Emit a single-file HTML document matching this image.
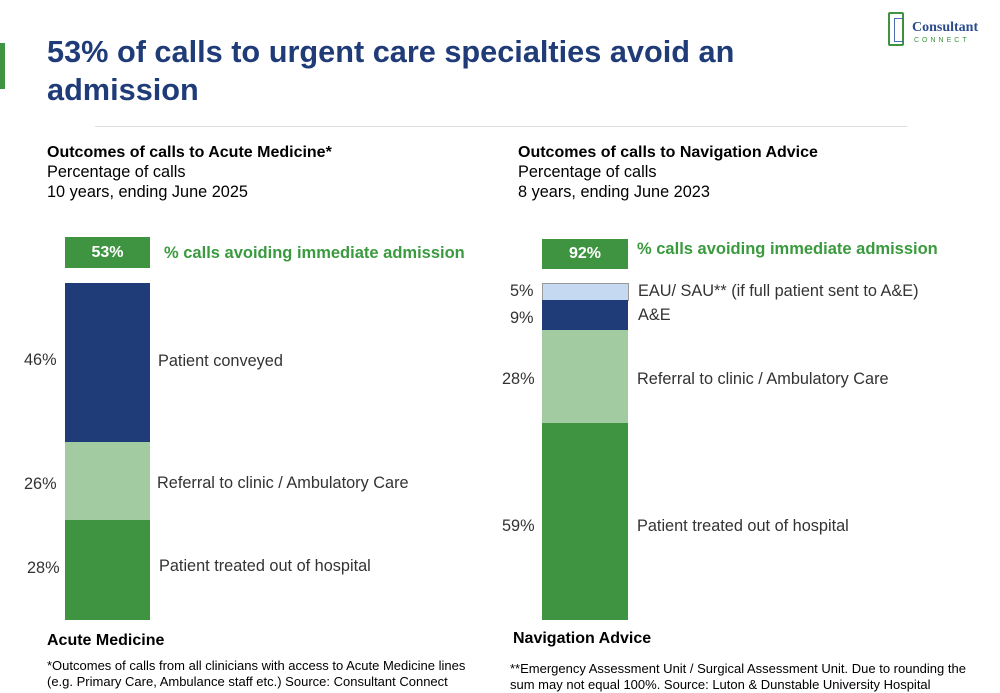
<!DOCTYPE html><html><head><style>
body{margin:0;width:1000px;height:692px;background:#fff;position:relative;font-family:"Liberation Sans",sans-serif;overflow:hidden}
div{position:absolute}
.t{color:#333;font-size:16.3px;white-space:nowrap}
.g{color:#3a9a3e;font-weight:bold;font-size:16.5px;white-space:nowrap}
.b{font-weight:bold;color:#000;font-size:16px;white-space:nowrap}
.s{font-size:13px;color:#000;line-height:16px;white-space:nowrap}
.box{background:#3e9441;color:#fff;font-weight:bold;font-size:16px;text-align:center}
</style></head><body>
<div style="left:0;top:43px;width:5px;height:46px;background:#3e9441"></div>
<div style="left:47px;top:33px;font-size:30.7px;font-weight:bold;color:#1f3c78;line-height:38px;width:900px">53% of calls to urgent care specialties avoid an<br>admission</div>
<div style="left:888px;top:12px;width:12px;height:30px;border:2px solid #3e9441;border-radius:2px"></div>
<div style="left:894px;top:18px;width:8px;height:22px;border:1.5px solid #4a6db0"></div>
<div style="left:912px;top:20px;font-family:'Liberation Serif',serif;font-size:14px;font-weight:bold;color:#2a4b8d">Consultant</div>
<div style="left:914px;top:37px;font-size:7px;letter-spacing:3px;color:#3e9441">CONNECT</div>
<div style="left:95px;top:126px;width:812px;height:1px;background:#ddd"></div>

<div class="b" style="left:47px;top:144px">Outcomes of calls to Acute Medicine*</div>
<div class="t" style="left:47px;top:163px;color:#000">Percentage of calls</div>
<div class="t" style="left:47px;top:183px;color:#000">10 years, ending June 2025</div>
<div class="b" style="left:518px;top:144px">Outcomes of calls to Navigation Advice</div>
<div class="t" style="left:518px;top:163px;color:#000">Percentage of calls</div>
<div class="t" style="left:518px;top:183px;color:#000">8 years, ending June 2023</div>

<div class="box" style="left:65px;top:237px;width:85px;height:31px;line-height:31px">53%</div>
<div class="g" style="left:164px;top:244px">% calls avoiding immediate admission</div>
<div style="left:65px;top:283px;width:85px;height:159px;background:#1f3c78"></div>
<div style="left:65px;top:442px;width:85px;height:78px;background:#a3cba1"></div>
<div style="left:65px;top:520px;width:85px;height:100px;background:#3e9441"></div>
<div class="t" style="left:24px;top:351px">46%</div>
<div class="t" style="left:158px;top:352px">Patient conveyed</div>
<div class="t" style="left:24px;top:475px">26%</div>
<div class="t" style="left:157px;top:474px">Referral to clinic / Ambulatory Care</div>
<div class="t" style="left:27px;top:559px">28%</div>
<div class="t" style="left:159px;top:557px">Patient treated out of hospital</div>

<div class="box" style="left:542px;top:239px;width:86px;height:30px;line-height:30px">92%</div>
<div class="g" style="left:637px;top:240px">% calls avoiding immediate admission</div>
<div style="left:542px;top:283px;width:85px;height:16px;background:#c5daf1;border:1px solid #999"></div>
<div style="left:542px;top:300px;width:86px;height:30px;background:#1f3c78"></div>
<div style="left:542px;top:330px;width:86px;height:93px;background:#a3cba1"></div>
<div style="left:542px;top:423px;width:86px;height:197px;background:#3e9441"></div>
<div class="t" style="left:510px;top:282px">5%</div>
<div class="t" style="left:638px;top:282px">EAU/ SAU** (if full patient sent to A&amp;E)</div>
<div class="t" style="left:510px;top:309px">9%</div>
<div class="t" style="left:638px;top:306px">A&amp;E</div>
<div class="t" style="left:502px;top:370px">28%</div>
<div class="t" style="left:637px;top:370px">Referral to clinic / Ambulatory Care</div>
<div class="t" style="left:502px;top:517px">59%</div>
<div class="t" style="left:637px;top:517px">Patient treated out of hospital</div>

<div class="b" style="left:47px;top:632px">Acute Medicine</div>
<div class="b" style="left:513px;top:630px">Navigation Advice</div>
<div class="s" style="left:47px;top:658px">*Outcomes of calls from all clinicians with access to Acute Medicine lines<br>(e.g. Primary Care, Ambulance staff etc.) Source: Consultant Connect</div>
<div class="s" style="left:510px;top:661px">**Emergency Assessment Unit / Surgical Assessment Unit. Due to rounding the<br>sum may not equal 100%. Source: Luton &amp; Dunstable University Hospital</div>
</body></html>
